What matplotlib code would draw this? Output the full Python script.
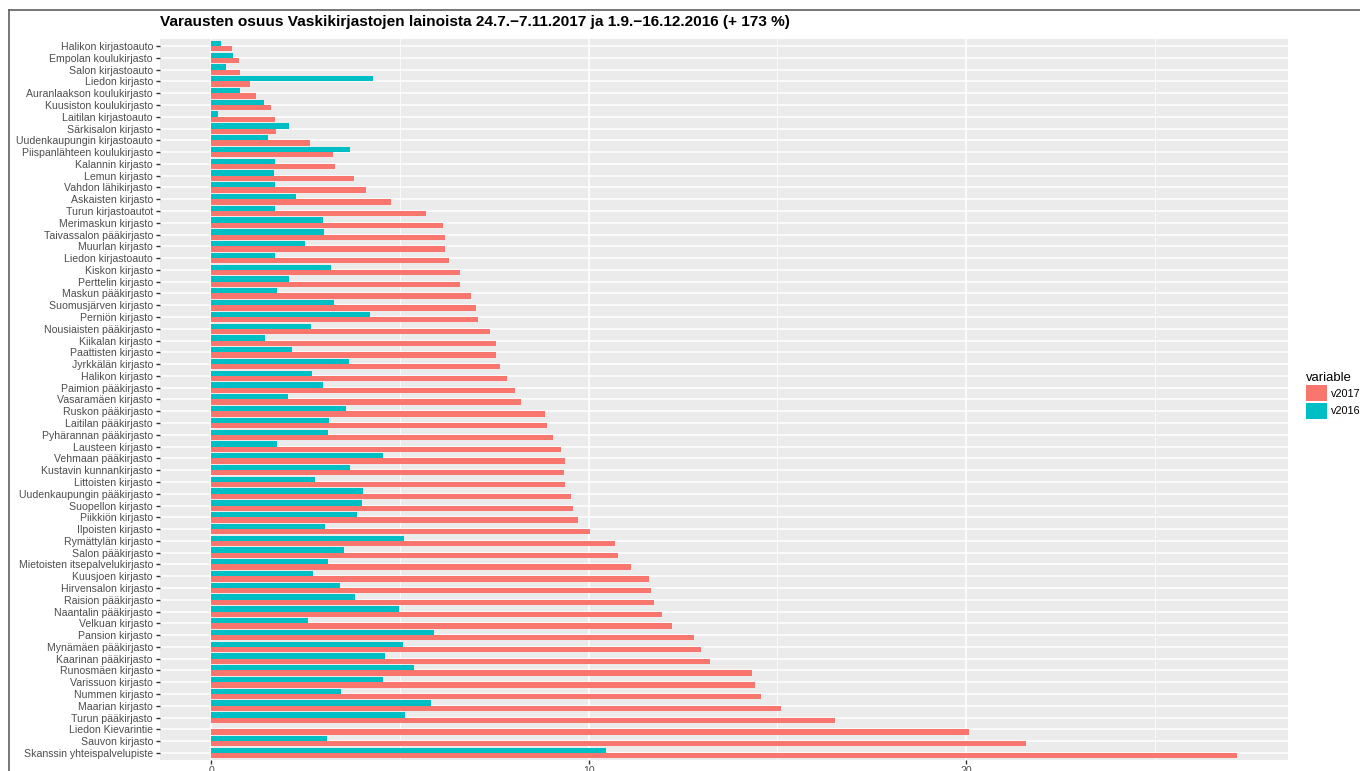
import matplotlib.pyplot as plt
import numpy as np
from matplotlib.lines import Line2D
from matplotlib.patches import Patch

plt.rcParams['font.family'] = ['Liberation Sans', 'DejaVu Sans']

kirjastot = [
    "Halikon kirjastoauto", "Empolan koulukirjasto", "Salon kirjastoauto",
    "Liedon kirjasto", "Auranlaakson koulukirjasto", "Kuusiston koulukirjasto",
    "Laitilan kirjastoauto", "Särkisalon kirjasto", "Uudenkaupungin kirjastoauto",
    "Piispanlähteen koulukirjasto", "Kalannin kirjasto", "Lemun kirjasto",
    "Vahdon lähikirjasto", "Askaisten kirjasto", "Turun kirjastoautot",
    "Merimaskun kirjasto", "Taivassalon pääkirjasto", "Muurlan kirjasto",
    "Liedon kirjastoauto", "Kiskon kirjasto", "Perttelin kirjasto",
    "Maskun pääkirjasto", "Suomusjärven kirjasto", "Perniön kirjasto",
    "Nousiaisten pääkirjasto", "Kiikalan kirjasto", "Paattisten kirjasto",
    "Jyrkkälän kirjasto", "Halikon kirjasto", "Paimion pääkirjasto",
    "Vasaramäen kirjasto", "Ruskon pääkirjasto", "Laitilan pääkirjasto",
    "Pyhärannan pääkirjasto", "Lausteen kirjasto", "Vehmaan pääkirjasto",
    "Kustavin kunnankirjasto", "Littoisten kirjasto", "Uudenkaupungin pääkirjasto",
    "Suopellon kirjasto", "Piikkiön kirjasto", "Ilpoisten kirjasto",
    "Rymättylän kirjasto", "Salon pääkirjasto", "Mietoisten itsepalvelukirjasto",
    "Kuusjoen kirjasto", "Hirvensalon kirjasto", "Raision pääkirjasto",
    "Naantalin pääkirjasto", "Velkuan kirjasto", "Pansion kirjasto",
    "Mynämäen pääkirjasto", "Kaarinan pääkirjasto", "Runosmäen kirjasto",
    "Varissuon kirjasto", "Nummen kirjasto", "Maarian kirjasto",
    "Turun pääkirjasto", "Liedon Kievarintie", "Sauvon kirjasto",
    "Skanssin yhteispalvelupiste",
]

v2017 = [
    0.55, 0.74, 0.76, 1.04, 1.19, 1.58, 1.68, 1.71, 2.61, 3.23,
    3.29, 3.79, 4.11, 4.76, 5.68, 6.15, 6.19, 6.19, 6.30, 6.60,
    6.60, 6.87, 7.02, 7.06, 7.39, 7.54, 7.55, 7.64, 7.83, 8.05,
    8.20, 8.84, 8.89, 9.06, 9.27, 9.37, 9.36, 9.38, 9.53, 9.59,
    9.73, 10.04, 10.70, 10.77, 11.12, 11.59, 11.65, 11.74, 11.95, 12.21,
    12.78, 12.98, 13.22, 14.32, 14.40, 14.57, 15.10, 16.54, 20.08, 21.58,
    27.18,
]

v2016 = [
    0.27, 0.59, 0.38, 4.28, 0.76, 1.41, 0.17, 2.07, 1.51, 3.69,
    1.68, 1.66, 1.68, 2.24, 1.68, 2.97, 3.00, 2.48, 1.68, 3.18,
    2.07, 1.73, 3.26, 4.20, 2.65, 1.42, 2.14, 3.66, 2.67, 2.96,
    2.03, 3.56, 3.12, 3.09, 1.75, 4.54, 3.68, 2.76, 4.02, 4.00,
    3.86, 3.02, 5.10, 3.51, 3.09, 2.70, 3.41, 3.81, 4.98, 2.57,
    5.89, 5.08, 4.61, 5.36, 4.54, 3.44, 5.82, 5.14, 0.0, 3.06,
    10.47,
]

red = "#F8766D"
teal = "#00BFC4"

fig = plt.figure(figsize=(13.6, 7.71), dpi=100)
ax = fig.add_axes([0.1176, 0.0143, 0.8297, 0.9351])

y = np.arange(len(kirjastot))
h = 0.45
ax.barh(y - h / 2, v2016, height=h, color=teal, zorder=3)
ax.barh(y + h / 2, v2017, height=h, color=red, zorder=3)

top = max(v2017)
pad = top * 0.05
ax.set_xlim(-pad, top + pad)
ax.set_ylim(len(kirjastot) - 1 + 0.6, -0.6)

ax.set_facecolor("#EBEBEB")
for s in ax.spines.values():
    s.set_visible(False)
ax.set_xticks([0, 10, 20])
ax.set_xticks([5, 15, 25], minor=True)
ax.set_yticks(y)
ax.set_yticklabels(kirjastot)
ax.grid(True, which="major", color="white", linewidth=1.1, zorder=0)
ax.grid(True, which="minor", axis="x", color="white", linewidth=0.55, zorder=0)
ax.set_axisbelow(True)
ax.tick_params(axis="both", which="major", length=3, width=1.0, color="#333333",
               labelsize=7.6, labelcolor="#4D4D4D", pad=2)
ax.tick_params(axis="x", which="major", pad=1)
ax.tick_params(axis="x", which="minor", length=0)

fig.text(0.1176, 0.972,
         "Varausten osuus Vaskikirjastojen lainoista 24.7.−7.11.2017 ja 1.9.−16.12.2016 (+ 173 %)",
         fontsize=11.1, fontweight="bold", ha="left", va="center")

handles = [Patch(facecolor=red, label="v2017"), Patch(facecolor=teal, label="v2016")]
fig.legend(handles=handles, title="variable", loc="upper left",
           bbox_to_anchor=(0.9605, 0.518), frameon=False, fontsize=7.8,
           title_fontsize=9.4, handlelength=1.9, handleheight=1.9,
           handletextpad=0.35, labelspacing=0.15, alignment="left",
           borderaxespad=0, borderpad=0)

# frame of the original screenshot
fig.add_artist(Line2D([0.0066, 1.0], [0.9865, 0.9865], color="#606060", linewidth=1.2))
fig.add_artist(Line2D([0.0066, 0.0066], [0.0, 0.9865], color="#606060", linewidth=1.2))

fig.savefig("out.png", dpi=100)
